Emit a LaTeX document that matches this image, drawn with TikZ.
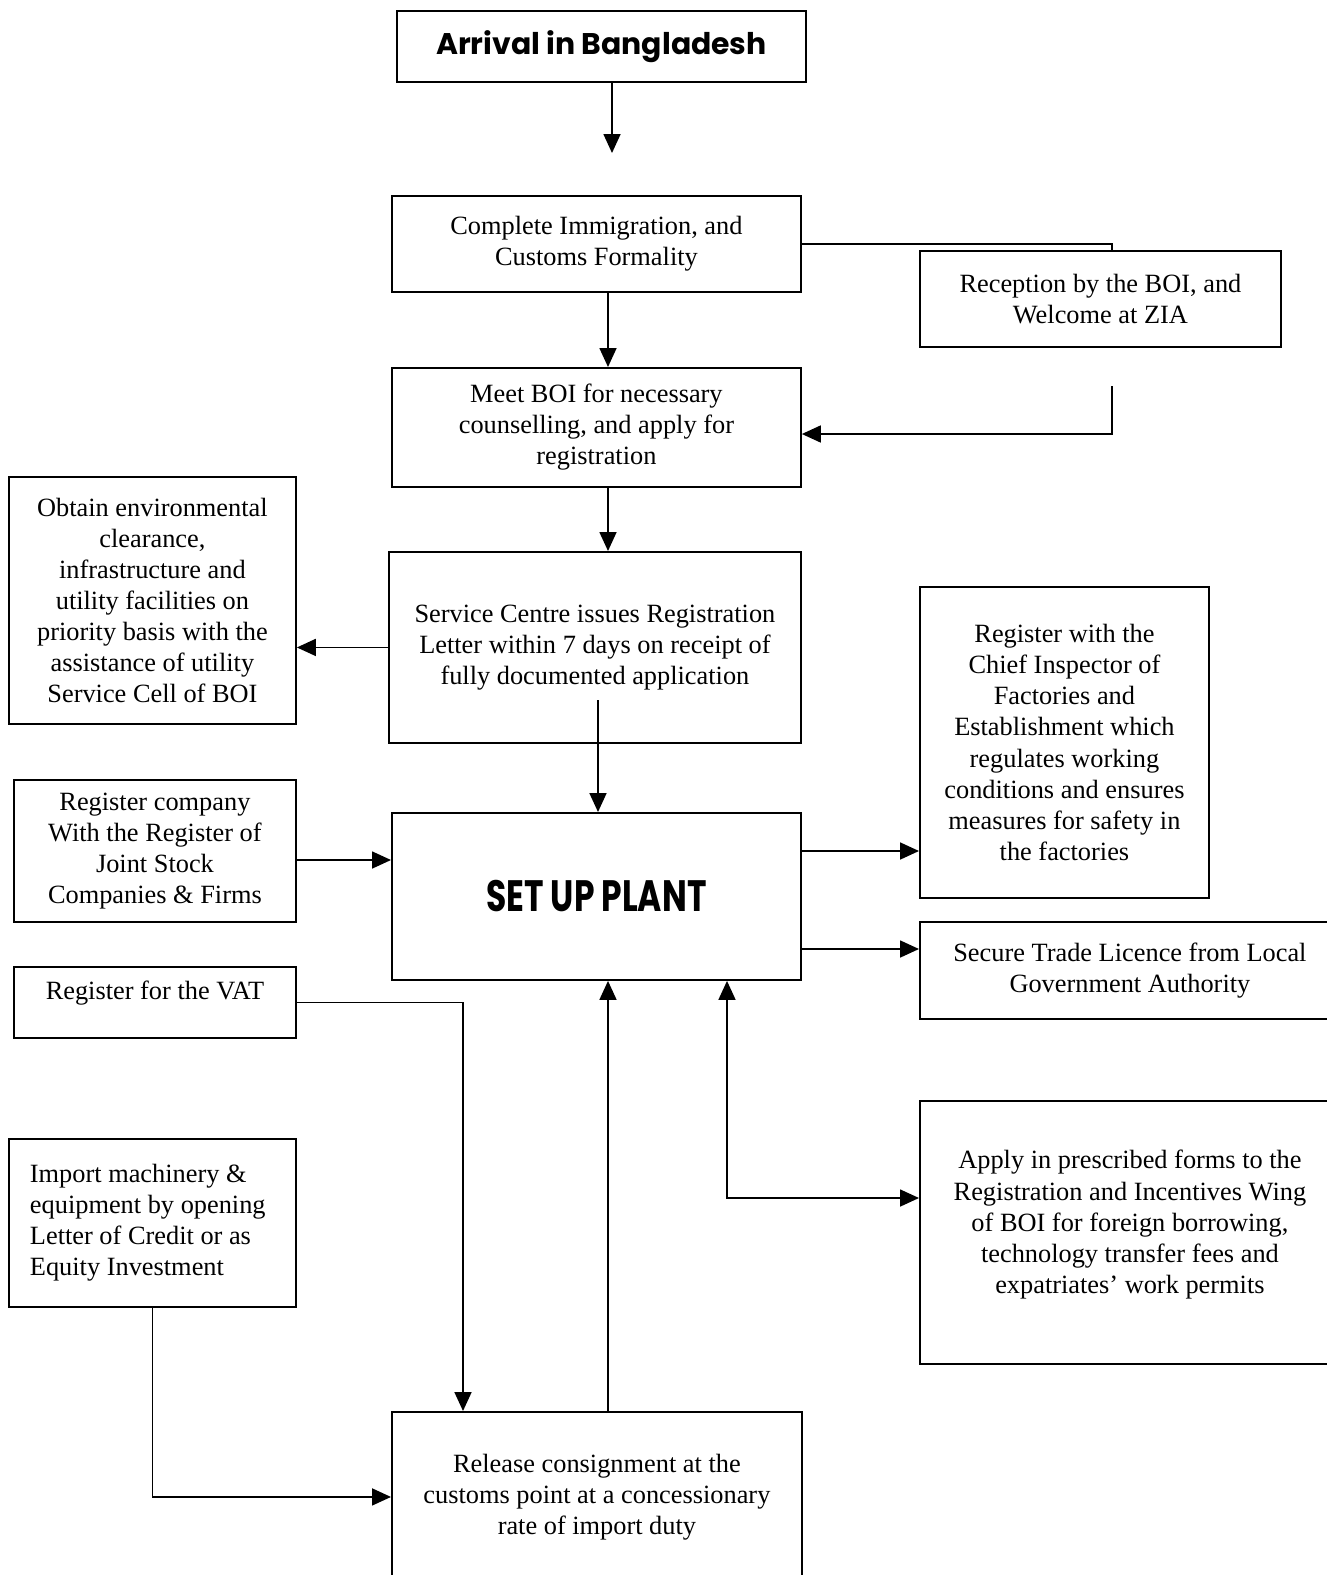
\documentclass[tikz,border=0pt]{standalone}
\usepackage{fontspec}
\setmainfont{Liberation Serif}
\newfontfamily\headfont{Poppins}
\newfontfamily\plantfont[FakeStretch=0.75]{Poppins}
\usetikzlibrary{shapes,arrows,positioning,fit,arrows.meta}

\begin{document}
\begin{tikzpicture}[x=0.02cm,y=-0.02cm,
        box/.style={draw,line width=1.1pt,anchor=north west,align=center,inner sep=0pt,
            font=\fontsize{15}{17.7}\selectfont},
        flow/.style={line width=1pt,-{Triangle[length=0.38cm,width=0.34cm]}},
        both/.style={line width=1pt,{Triangle[length=0.38cm,width=0.34cm]}-{Triangle[length=0.38cm,width=0.34cm]}},
        link/.style={line width=1pt}]
        % Fix the page and cut the boxes that run off the edge
        \useasboundingbox (0,0) rectangle (1327,1575);
        \clip (0,0) rectangle (1327,1575);
        % Draw top column of steps
        \node[box,minimum width=8.18cm,minimum height=1.42cm,
            font=\headfont\bfseries\fontsize{17}{21}\selectfont] (arrival) at (396,10) {Arrival in Bangladesh};
        \node[box,minimum width=8.18cm,minimum height=1.92cm] (complete) at (391,195) {
            Complete Immigration, and\\Customs Formality};
        \node[box,minimum width=7.22cm,minimum height=1.92cm] (reception) at (919,250) {
            Reception by the BOI, and\\Welcome at ZIA};
        \node[box,minimum width=8.18cm,minimum height=2.38cm] (meet) at (391,367) {
            Meet BOI for necessary\\counselling, and apply for\\registration};
        \node[box,minimum width=8.24cm,minimum height=3.82cm] (service) at (388,551) {
            Service Centre issues Registration\\Letter within 7 days on receipt of\\fully documented application};
        \node[box,minimum width=5.74cm,minimum height=4.94cm] (obtain) at (8,476) {
            Obtain environmental\\clearance,\\infrastructure and\\utility facilities on\\priority basis with the\\assistance of utility\\Service Cell of BOI};
        % Draw the plant and the boxes round it
        \node[box,minimum width=8.18cm,minimum height=3.34cm,
            font=\plantfont\bfseries\fontsize{25}{29}\selectfont] (setup) at (391,812) {SET UP PLANT};
        \node[box,minimum width=5.64cm,minimum height=2.84cm] (regco) at (13,779) {
            Register company\\With the Register of\\Joint Stock\\Companies \& Firms};
        \node[box,minimum width=5.78cm,minimum height=6.22cm] (chief) at (919,586) {
            Register with the\\Chief Inspector of\\Factories and\\Establishment which\\regulates working\\conditions and ensures\\measures for safety in\\the factories};
        \node[box,minimum width=8.4cm,minimum height=1.94cm] (secure) at (919,921) {
            Secure Trade Licence from Local\\Government Authority};
        \node[box,minimum width=5.64cm,minimum height=1.42cm] (vat) at (13,966) {
            Register for the VAT\\[-0.12cm]};
        \node[box,minimum width=5.74cm,minimum height=3.36cm,align=flush left,text width=4.9cm,inner xsep=0.42cm] (import) at (8,1138) {
            Import machinery \&\\equipment by opening\\Letter of Credit or as\\Equity Investment};
        \node[box,minimum width=8.4cm,minimum height=5.26cm] (apply) at (919,1100) {
            Apply in prescribed forms to the\\Registration and Incentives Wing\\of BOI for foreign borrowing,\\technology transfer fees and\\expatriates’ work permits\\[-0.2cm]};
        \node[box,minimum width=8.2cm,minimum height=3.4cm] (release) at (391,1411) {
            Release consignment at the\\customs point at a concessionary\\rate of import duty};
        % Free ends and bends of the connectors
        \coordinate (landing) at (612,153);
        \coordinate (mid) at (608,0);
        \coordinate (recx) at (1112,0);
        \coordinate (recback) at (1112,386);
        \coordinate (svc) at (598,700);
        \coordinate (vatx) at (463,0);
        \coordinate (wing) at (727,1198);
        \coordinate (regy) at (0,860);
        \coordinate (meety) at (0,434);
        \coordinate (chiefy) at (0,851);
        \coordinate (securey) at (0,949);
        % Draw connectors
        \draw[flow] (arrival.south -| landing) -- (landing);
        \draw[flow] (complete.south -| mid) -- (meet.north -| mid);
        \draw[link] (complete.east) -| (reception.north -| recx);
        \draw[flow] (recback) |- (meet.east |- meety);
        \draw[flow] (meet.south -| mid) -- (service.north -| mid);
        \draw[flow] (service.west) -- (obtain.east |- service.west);
        \draw[flow] (svc) -- (setup.north -| svc);
        \draw[flow] (regco.east |- regy) -- (setup.west |- regy);
        \draw[flow] (setup.east |- chiefy) -- (chief.west |- chiefy);
        \draw[flow] (setup.east |- securey) -- (secure.west |- securey);
        \draw[flow] (vat.east) -| (release.north -| vatx);
        \draw[flow] (release.north -| mid) -- (setup.south -| mid);
        \draw[flow] (import.south) |- (release.west);
        \draw[both] (setup.south -| wing) |- (apply.west |- wing);
    \end{tikzpicture}
\end{document}
